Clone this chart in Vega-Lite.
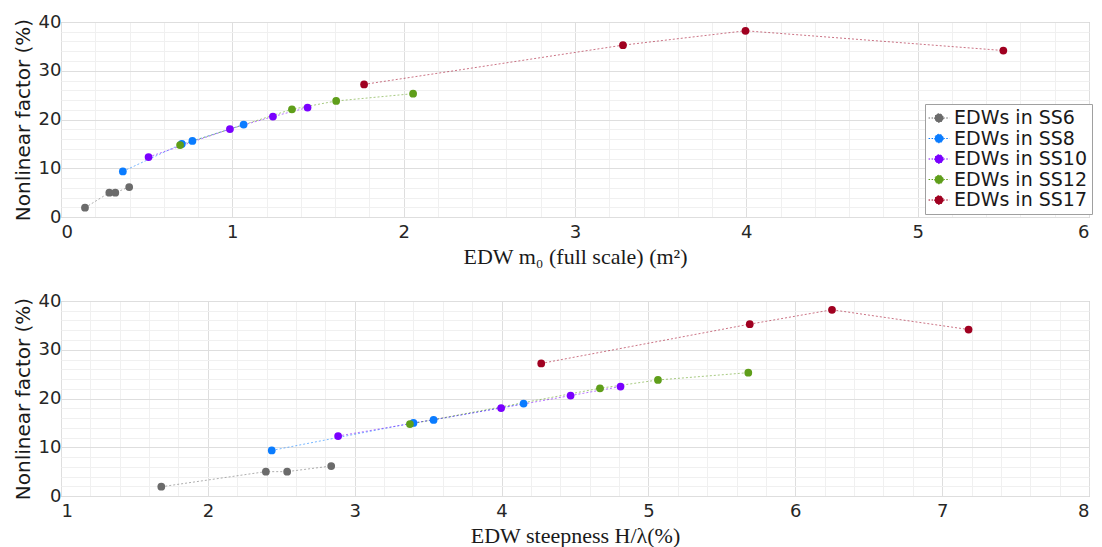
{
  "$schema": "https://vega.github.io/schema/vega-lite/v6.json",
  "padding": {"left": 12, "top": 12, "right": 3, "bottom": 4},
  "bounds": "flush",
  "spacing": 84,
  "background": "white",
  "data": {"values": [
    {"series": "EDWs in SS6", "m0": 0.14, "steep": 1.683, "nf": 1.9},
    {"series": "EDWs in SS6", "m0": 0.282, "steep": 2.395, "nf": 5.0},
    {"series": "EDWs in SS6", "m0": 0.317, "steep": 2.54, "nf": 5.0},
    {"series": "EDWs in SS6", "m0": 0.398, "steep": 2.84, "nf": 6.15},
    {"series": "EDWs in SS8", "m0": 0.361, "steep": 2.435, "nf": 9.35},
    {"series": "EDWs in SS8", "m0": 0.705, "steep": 3.40, "nf": 15.0},
    {"series": "EDWs in SS8", "m0": 0.767, "steep": 3.537, "nf": 15.6},
    {"series": "EDWs in SS8", "m0": 1.066, "steep": 4.15, "nf": 18.95},
    {"series": "EDWs in SS10", "m0": 0.511, "steep": 2.887, "nf": 12.3},
    {"series": "EDWs in SS10", "m0": 0.986, "steep": 3.997, "nf": 18.05},
    {"series": "EDWs in SS10", "m0": 1.237, "steep": 4.47, "nf": 20.6},
    {"series": "EDWs in SS10", "m0": 1.439, "steep": 4.81, "nf": 22.45},
    {"series": "EDWs in SS12", "m0": 0.695, "steep": 3.376, "nf": 14.75},
    {"series": "EDWs in SS12", "m0": 1.348, "steep": 4.67, "nf": 22.1},
    {"series": "EDWs in SS12", "m0": 1.606, "steep": 5.065, "nf": 23.8},
    {"series": "EDWs in SS12", "m0": 2.055, "steep": 5.68, "nf": 25.3},
    {"series": "EDWs in SS17", "m0": 1.769, "steep": 4.27, "nf": 27.2},
    {"series": "EDWs in SS17", "m0": 3.28, "steep": 5.69, "nf": 35.25},
    {"series": "EDWs in SS17", "m0": 3.995, "steep": 6.25, "nf": 38.2},
    {"series": "EDWs in SS17", "m0": 5.50, "steep": 7.18, "nf": 34.15}
  ]},
  "config": {
    "view": {"stroke": "#b3b3b3", "strokeWidth": 1},
    "font": "DejaVu Sans",
    "axis": {
      "domain": false,
      "ticks": false,
      "labelFont": "DejaVu Sans",
      "labelFontSize": 18,
      "labelColor": "#262626",
      "titleColor": "#1a1a1a",
      "titleFontWeight": "normal"
    },
    "legend": {
      "orient": "none",
      "legendX": 864,
      "legendY": 82,
      "strokeColor": "#a0a0a0",
      "fillColor": "white",
      "padding": 4,
      "labelFont": "DejaVu Sans",
      "labelFontSize": 19,
      "labelColor": "#1a1a1a",
      "labelOffset": 5,
      "symbolType": "M-1.1,0 L-0.45,0 M0.45,0 L1.1,0 M0.45,0 A0.45,0.45 0 1,1 -0.45,0 A0.45,0.45 0 1,1 0.45,0 Z",
      "symbolSize": 360,
      "symbolStrokeWidth": 1,
      "symbolDash": [1.5, 1.5],
      "symbolOpacity": 1,
      "rowPadding": 0.5,
      "title": null
    }
  },
  "resolve": {"legend": {"color": "independent"}},
  "vconcat": [
    {
      "width": 1028,
      "height": 195,
      "resolve": {"axis": {"x": "independent", "y": "independent"}},
      "layer": [
        {
          "mark": {"type": "line", "strokeDash": [2, 2], "strokeWidth": 1, "opacity": 0.55},
          "encoding": {
            "x": {"field": "m0", "type": "quantitative", "scale": {"domain": [0, 6], "nice": false},
                  "axis": {"orient": "top", "minExtent": 0, "maxExtent": 0, "values": [0.2,0.4,0.6,0.8,1.2,1.4,1.6,1.8,2.2,2.4,2.6,2.8,3.2,3.4,3.6,3.8,4.2,4.4,4.6,4.8,5.2,5.4,5.6,5.8], "labels": false, "title": null, "grid": true, "gridColor": "#f0f0f0"}},
            "y": {"field": "nf", "type": "quantitative", "scale": {"domain": [0, 40], "nice": false},
                  "axis": {"orient": "right", "minExtent": 0, "maxExtent": 0, "values": [2,4,6,8,12,14,16,18,22,24,26,28,32,34,36,38], "labels": false, "title": null, "grid": true, "gridColor": "#f0f0f0"}},
            "color": {"field": "series", "type": "nominal", "scale": {"domain": ["EDWs in SS6", "EDWs in SS8", "EDWs in SS10", "EDWs in SS12", "EDWs in SS17"], "range": ["#6b6b6b", "#0a7cff", "#7a00ff", "#5f9e1a", "#a00020"]}},
            "detail": {"field": "series"},
            "order": {"field": "m0", "type": "quantitative"}
          }
        },
        {
          "mark": {"type": "point", "filled": true, "size": 60, "opacity": 1},
          "encoding": {
            "x": {"field": "m0", "type": "quantitative", "scale": {"domain": [0, 6], "nice": false},
                  "axis": {"orient": "bottom", "values": [0,1,2,3,4,5,6], "grid": true, "gridColor": "#dedede", "labelPadding": 6, "title": "EDW m₀ (full scale) (m²)", "titleFont": "Liberation Serif", "titleFontSize": 22, "titlePadding": 5}},
            "y": {"field": "nf", "type": "quantitative", "scale": {"domain": [0, 40], "nice": false},
                  "axis": {"orient": "left", "values": [0,10,20,30,40], "grid": true, "gridColor": "#dedede", "labelPadding": 0, "title": "Nonlinear factor (%)", "titleFont": "DejaVu Sans", "titleFontSize": 20, "titlePadding": 5}},
            "color": {"field": "series", "type": "nominal", "scale": {"domain": ["EDWs in SS6", "EDWs in SS8", "EDWs in SS10", "EDWs in SS12", "EDWs in SS17"], "range": ["#6b6b6b", "#0a7cff", "#7a00ff", "#5f9e1a", "#a00020"]}}
          }
        }
      ]
    },
    {
      "width": 1028,
      "height": 195,
      "resolve": {"axis": {"x": "independent", "y": "independent"}},
      "layer": [
        {
          "mark": {"type": "line", "strokeDash": [2, 2], "strokeWidth": 1, "opacity": 0.55},
          "encoding": {
            "x": {"field": "steep", "type": "quantitative", "scale": {"domain": [1, 8], "nice": false},
                  "axis": {"orient": "top", "minExtent": 0, "maxExtent": 0, "values": [1.2,1.4,1.6,1.8,2.2,2.4,2.6,2.8,3.2,3.4,3.6,3.8,4.2,4.4,4.6,4.8,5.2,5.4,5.6,5.8,6.2,6.4,6.6,6.8,7.2,7.4,7.6,7.8], "labels": false, "title": null, "grid": true, "gridColor": "#f0f0f0"}},
            "y": {"field": "nf", "type": "quantitative", "scale": {"domain": [0, 40], "nice": false},
                  "axis": {"orient": "right", "minExtent": 0, "maxExtent": 0, "values": [2,4,6,8,12,14,16,18,22,24,26,28,32,34,36,38], "labels": false, "title": null, "grid": true, "gridColor": "#f0f0f0"}},
            "color": {"field": "series", "type": "nominal", "legend": null, "scale": {"domain": ["EDWs in SS6", "EDWs in SS8", "EDWs in SS10", "EDWs in SS12", "EDWs in SS17"], "range": ["#6b6b6b", "#0a7cff", "#7a00ff", "#5f9e1a", "#a00020"]}},
            "detail": {"field": "series"},
            "order": {"field": "steep", "type": "quantitative"}
          }
        },
        {
          "mark": {"type": "point", "filled": true, "size": 60, "opacity": 1},
          "encoding": {
            "x": {"field": "steep", "type": "quantitative", "scale": {"domain": [1, 8], "nice": false},
                  "axis": {"orient": "bottom", "values": [1,2,3,4,5,6,7,8], "grid": true, "gridColor": "#dedede", "labelPadding": 6, "title": "EDW steepness H/λ(%)", "titleFont": "Liberation Serif", "titleFontSize": 22, "titlePadding": 5}},
            "y": {"field": "nf", "type": "quantitative", "scale": {"domain": [0, 40], "nice": false},
                  "axis": {"orient": "left", "values": [0,10,20,30,40], "grid": true, "gridColor": "#dedede", "labelPadding": 0, "title": "Nonlinear factor (%)", "titleFont": "DejaVu Sans", "titleFontSize": 20, "titlePadding": 5}},
            "color": {"field": "series", "type": "nominal", "legend": null, "scale": {"domain": ["EDWs in SS6", "EDWs in SS8", "EDWs in SS10", "EDWs in SS12", "EDWs in SS17"], "range": ["#6b6b6b", "#0a7cff", "#7a00ff", "#5f9e1a", "#a00020"]}}
          }
        }
      ]
    }
  ]
}
